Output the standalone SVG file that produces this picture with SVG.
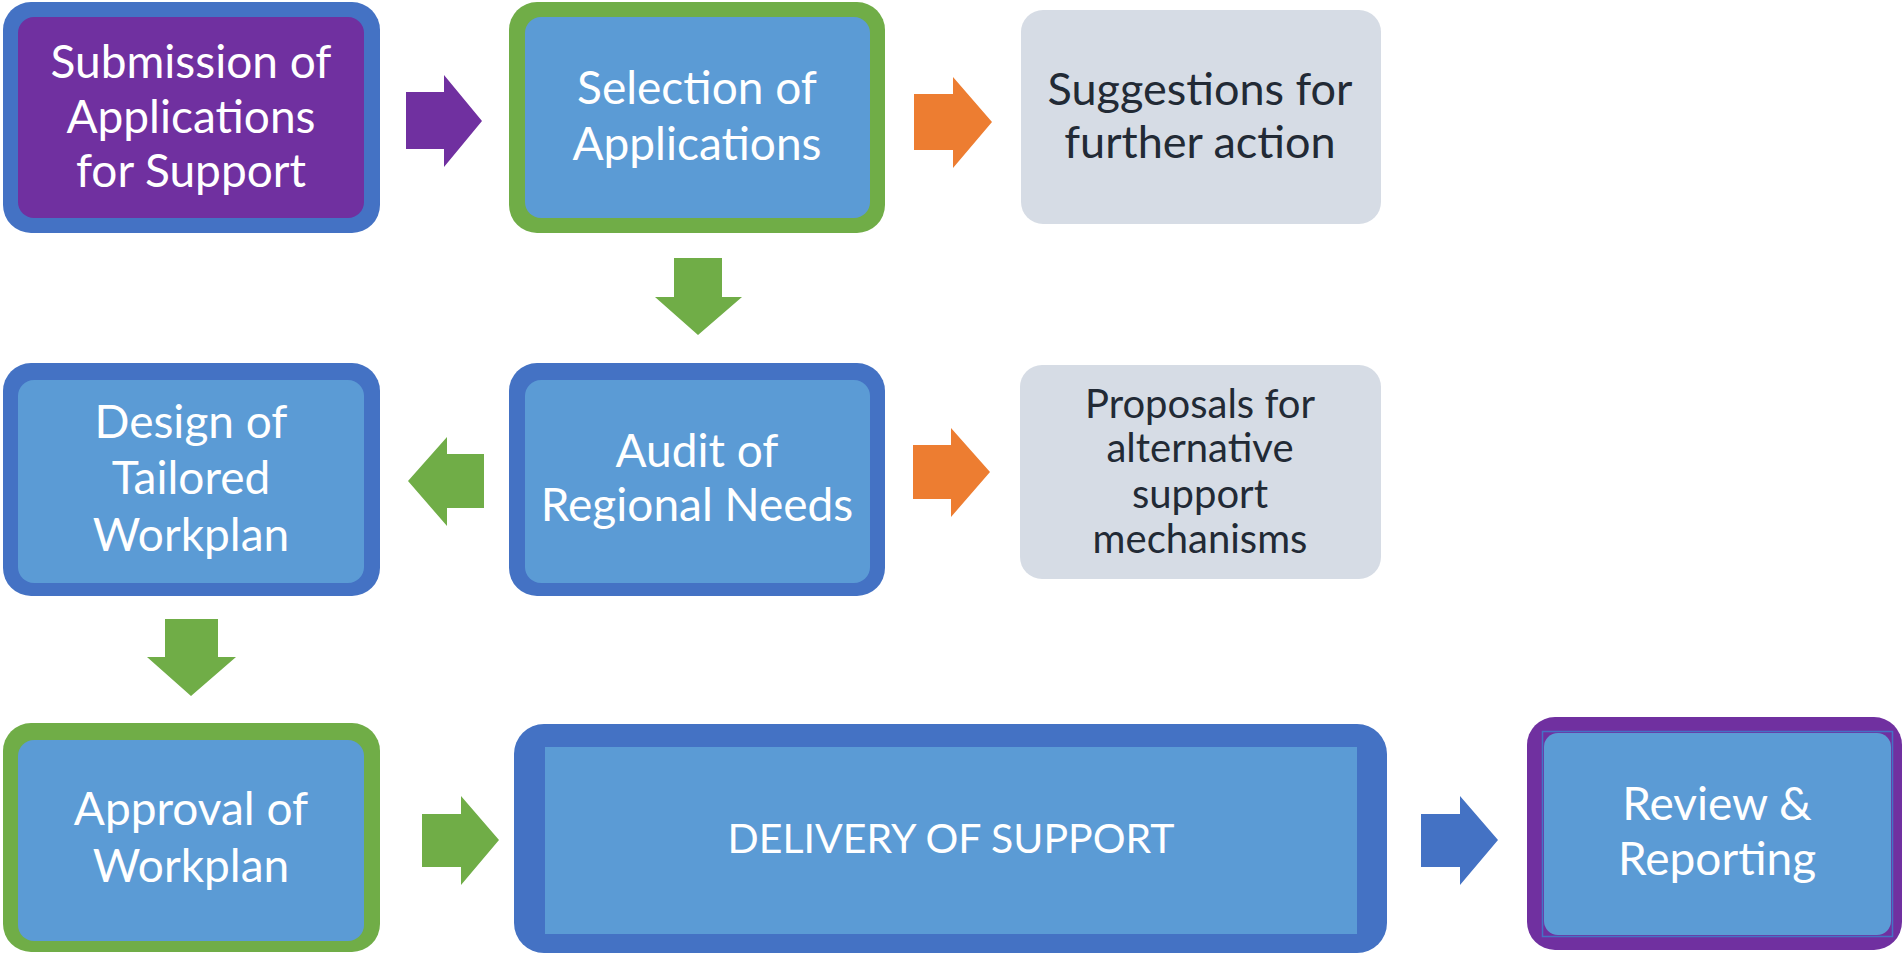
<svg xmlns="http://www.w3.org/2000/svg" width="1903" height="954" viewBox="0 0 1903 954">
<style>
  .t { font-family: Lato, "Open Sans", "Liberation Sans", sans-serif; font-size: 46px; fill: #FFFFFF; text-anchor: middle; }
  .d { fill: #222A35; }
  .s { font-size: 40px; }
  .m { font-size: 45px; }
  .u { font-size: 41px; }
  .bb { fill: #4472C4; }
  .gb { fill: #70AD47; }
  .pb { fill: #7030A0; }
  .inb { fill: #5B9BD5; }
  .gray { fill: #D6DCE5; }
  .ag { fill: #70AD47; }
  .ao { fill: #ED7D31; }
  .ap { fill: #7030A0; }
  .ab { fill: #4472C4; }
</style>
<rect width="1903" height="954" fill="#FFFFFF"/>

<g id="n-submission">
  <rect class="bb" x="3" y="2" width="377" height="231" rx="28"/>
  <rect class="pb" x="18" y="17" width="346" height="201" rx="16"/>
  <text class="t" x="191" y="78">Submission of</text>
  <text class="t" x="191" y="133">Applications</text>
  <text class="t" x="191" y="187">for Support</text>
</g>

<g id="n-selection">
  <rect class="gb" x="509" y="2" width="376" height="231" rx="28"/>
  <rect class="inb" x="525" y="17" width="345" height="201" rx="16"/>
  <text class="t" x="697" y="104">Selection of</text>
  <text class="t" x="697" y="160">Applications</text>
</g>

<g id="n-suggestions">
  <rect class="gray" x="1021" y="10" width="360" height="214" rx="22"/>
  <text class="t d m" x="1200" y="105">Suggestions for</text>
  <text class="t d m" x="1200" y="158">further action</text>
</g>

<g id="n-design">
  <rect class="bb" x="3" y="363" width="377" height="233" rx="28"/>
  <rect class="inb" x="18" y="380" width="346" height="203" rx="16"/>
  <text class="t" x="191" y="438">Design of</text>
  <text class="t" x="191" y="494">Tailored</text>
  <text class="t" x="191" y="551">Workplan</text>
</g>

<g id="n-audit">
  <rect class="bb" x="509" y="363" width="376" height="233" rx="28"/>
  <rect class="inb" x="525" y="380" width="345" height="203" rx="16"/>
  <text class="t" x="697" y="467">Audit of</text>
  <text class="t" x="697" y="521">Regional Needs</text>
</g>

<g id="n-proposals">
  <rect class="gray" x="1020" y="365" width="361" height="214" rx="22"/>
  <text class="t d s" x="1200" y="418">Proposals for</text>
  <text class="t d s" x="1200" y="462">alternative</text>
  <text class="t d s" x="1200" y="508">support</text>
  <text class="t d s" x="1200" y="553">mechanisms</text>
</g>

<g id="n-approval">
  <rect class="gb" x="3" y="723" width="377" height="229" rx="28"/>
  <rect class="inb" x="18" y="740" width="346" height="201" rx="16"/>
  <text class="t" x="191" y="825">Approval of</text>
  <text class="t" x="191" y="882">Workplan</text>
</g>

<g id="n-delivery">
  <rect class="bb" x="514" y="724" width="873" height="229" rx="30"/>
  <rect class="inb" x="545" y="747" width="812" height="187"/>
  <text class="t u" x="951" y="853">DELIVERY OF SUPPORT</text>
</g>

<g id="n-review">
  <rect class="pb" x="1527" y="717" width="375" height="233" rx="28"/>
  <rect x="1542.5" y="731.5" width="350" height="205" fill="none" stroke="#4472C4" stroke-width="1.5"/>
  <rect class="inb" x="1544" y="733" width="347" height="202" rx="14"/>
  <text class="t" x="1717" y="820">Review &amp;</text>
  <text class="t" x="1717" y="875">Reporting</text>
</g>

<g id="connectors">
  <polygon class="ap" points="406,92 444,92 444,75 482,121 444,167 444,149 406,149"/>
  <polygon class="ao" points="914,94 953,94 953,77 992,122 953,168 953,150 914,150"/>
  <polygon class="ag" points="674,258 722,258 722,297 742,297 698,335 655,297 674,297"/>
  <polygon class="ag" points="484,454 447,454 447,437 408,481 447,526 447,508 484,508"/>
  <polygon class="ao" points="913,445 951,445 951,428 990,472 951,517 951,499 913,499"/>
  <polygon class="ag" points="165,619 218,619 218,657 236,657 191,696 147,657 165,657"/>
  <polygon class="ag" points="422,814 461,814 461,796 499,840 461,885 461,867 422,867"/>
  <polygon class="ab" points="1421,814 1460,814 1460,796 1498,840 1460,885 1460,867 1421,867"/>
</g>
</svg>
